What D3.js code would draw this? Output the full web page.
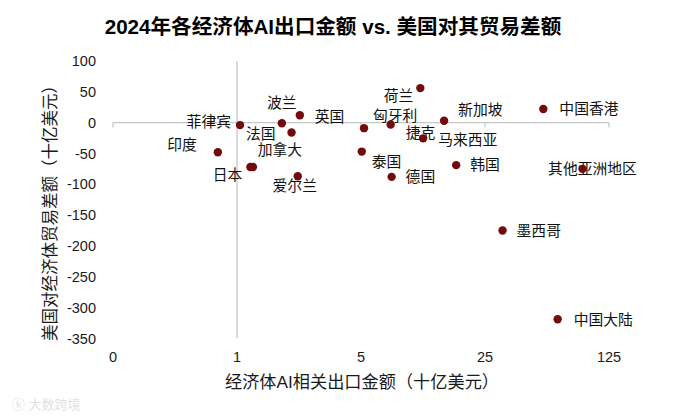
<!DOCTYPE html>
<html>
<head>
<meta charset="utf-8">
<title>AI出口 vs 贸易差额</title>
<style>
  body { margin: 0; background: #fff; }
  text { font-family: "Liberation Sans", Arial, "Noto Sans CJK SC", sans-serif; }
  .cjk { font-family: "Liberation Sans", "Noto Sans CJK SC", sans-serif; }
</style>
</head>
<body>
<script src="https://d3js.org/d3.v7.min.js"></script>
<script>
// economies, AI related exports (bn USD) and US trade balance with them (bn USD)
var names = ["菲律宾", "印度", "日本", "加拿大", "波兰", "法国", "英国", "爱尔兰",
  "荷兰", "匈牙利", "捷克", "新加坡", "马来西亚", "泰国", "德国", "韩国",
  "中国香港", "其他亚洲地区", "墨西哥", "中国大陆"];
var aiExports = [1.04, 0.78, 1.19, 1.23, 1.79, 2.03, 2.26, 2.2,
  10.8, 5.2, 7.35, 14.7, 11.2, 5.05, 7.44, 17.2,
  53.3, 88.6, 31.4, 64.2];
var tradeBalance = [-4, -48, -72, -72, -1, -16, 12, -87,
  56, -9, -3, 3, -25.5, -47, -88, -69,
  22, -75, -175, -319];

var xTicks = [0.2, 1, 5, 25, 125];
var xTickLabels = ["0", "1", "5", "25", "125"];
var yTicks = [100, 50, 0, -50, -100, -150, -200, -250, -300, -350];

// where each label sits next to its dot
var labelPlace = {
  "菲律宾": ["end", -9, -3.5], "印度": ["end", -21, -8], "日本": ["end", -8, 8],
  "加拿大": ["middle", 27, -17], "波兰": ["middle", 0, -21], "法国": ["end", -16, 1],
  "英国": ["start", 15, 1], "爱尔兰": ["middle", -3, 9], "荷兰": ["end", -7, 8],
  "匈牙利": ["start", 9, -12], "捷克": ["start", 15, 8], "新加坡": ["start", 14, -11],
  "马来西亚": ["start", 15, 1], "泰国": ["start", 10, 10], "德国": ["start", 14, 0],
  "韩国": ["start", 14, 0], "中国香港": ["start", 16, 0], "其他亚洲地区": ["middle", 10, 0],
  "墨西哥": ["start", 14, 0], "中国大陆": ["start", 16, 0]
};

var width = 677, height = 420;
var svg = d3.select("body").append("svg")
  .attr("width", width)
  .attr("height", height);

var x = d3.scaleLog().base(5).domain([0.2, 125]).range([113, 609]);
var y = d3.scaleLinear().domain([-350, 100]).range([338.3, 61]);

var data = names.map(function(n, i) {
  return { name: n, ax: aiExports[i], tb: tradeBalance[i] };
});

// title
svg.append("text")
  .attr("x", 333).attr("y", 34)
  .attr("text-anchor", "middle")
  .style("font-family", "'Liberation Sans Narrow', 'Liberation Sans', 'Noto Sans CJK SC', sans-serif")
  .style("font-weight", "bold")
  .style("font-size", "20.6px")
  .attr("fill", "#000")
  .text("2024年各经济体AI出口金额 vs. 美国对其贸易差额");

// axis lines: horizontal at y = 0, vertical at x = 1
var axisColor = "#c8c8c8";
svg.append("line")
  .attr("x1", x(0.2)).attr("x2", x(125))
  .attr("y1", y(0)).attr("y2", y(0))
  .attr("stroke", axisColor).attr("stroke-width", 1.3);
svg.selectAll(".xtick").data(xTicks).enter().append("line")
  .attr("class", "xtick")
  .attr("x1", function(d) { return x(d); }).attr("x2", function(d) { return x(d); })
  .attr("y1", y(0)).attr("y2", y(0) + 5)
  .attr("stroke", axisColor).attr("stroke-width", 1.3);
svg.append("line")
  .attr("x1", x(1)).attr("x2", x(1))
  .attr("y1", y(100)).attr("y2", y(-350))
  .attr("stroke", axisColor).attr("stroke-width", 1.3);

// tick labels
svg.selectAll(".ylab").data(yTicks).enter().append("text")
  .attr("class", "ylab")
  .attr("x", 96)
  .attr("y", function(d) { return y(d); })
  .attr("dy", "0.36em")
  .attr("text-anchor", "end")
  .style("font-size", "14.5px")
  .attr("fill", "#1a1a1a")
  .text(function(d) { return d; });

svg.selectAll(".xlab").data(xTicks).enter().append("text")
  .attr("class", "xlab")
  .attr("x", function(d) { return x(d); })
  .attr("y", 357)
  .attr("dy", "0.36em")
  .attr("text-anchor", "middle")
  .style("font-size", "14.5px")
  .attr("fill", "#1a1a1a")
  .text(function(d, i) { return xTickLabels[i]; });

// axis titles
svg.append("text")
  .attr("class", "cjk")
  .attr("x", 362).attr("y", 382)
  .attr("dy", "0.36em")
  .attr("text-anchor", "middle")
  .style("font-size", "17.2px")
  .attr("fill", "#1a1a1a")
  .text("经济体AI相关出口金额（十亿美元）");

svg.append("text")
  .attr("class", "cjk")
  .attr("transform", "translate(50,209) rotate(-90)")
  .attr("dy", "0.36em")
  .attr("text-anchor", "middle")
  .style("font-size", "16.5px")
  .attr("fill", "#1a1a1a")
  .text("美国对经济体贸易差额（十亿美元）");

// labels
svg.selectAll(".lab").data(data).enter().append("text")
  .attr("class", "lab cjk")
  .attr("x", function(d) { return x(d.ax) + labelPlace[d.name][1]; })
  .attr("y", function(d) { return y(d.tb) + labelPlace[d.name][2]; })
  .attr("dy", "0.36em")
  .attr("text-anchor", function(d) { return labelPlace[d.name][0]; })
  .style("font-size", "14.8px")
  .attr("fill", "#111")
  .text(function(d) { return d.name; });

// dots
svg.selectAll(".dot").data(data).enter().append("circle")
  .attr("class", "dot")
  .attr("cx", function(d) { return x(d.ax); })
  .attr("cy", function(d) { return y(d.tb); })
  .attr("r", 4.2)
  .attr("fill", "#720c0c");

// watermark
svg.append("text")
  .attr("class", "cjk")
  .attr("x", 12).attr("y", 409)
  .style("font-size", "13px")
  .attr("fill", "#e2e2e2")
  .text("ⓚ 大数跨境");
</script>
</body>
</html>
